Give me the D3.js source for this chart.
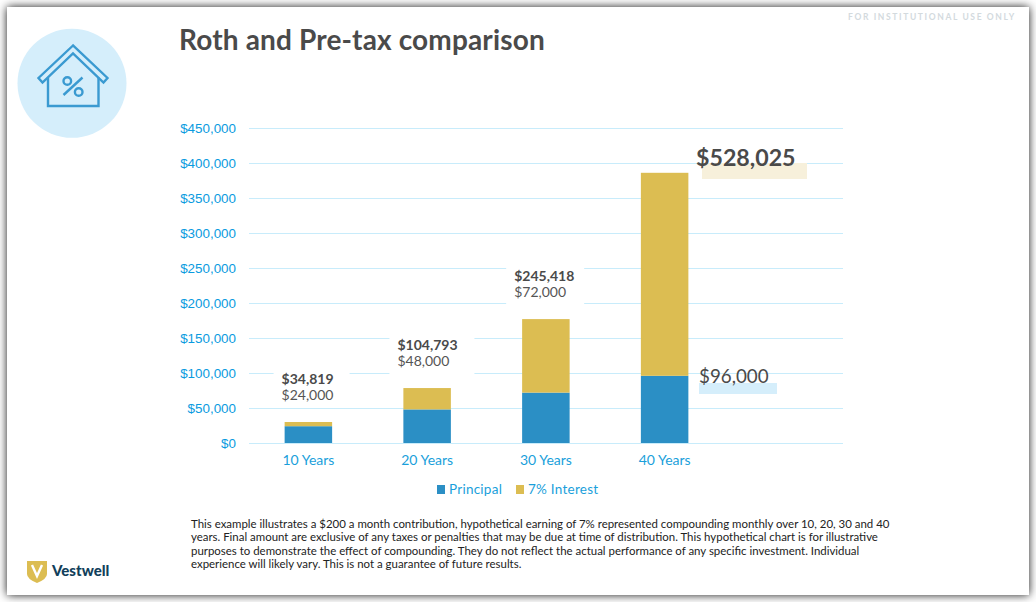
<!DOCTYPE html>
<html><head><meta charset="utf-8">
<script src="https://cdn.jsdelivr.net/npm/d3@7"></script>
<style>
html,body{margin:0;padding:0;background:#fff;width:1036px;height:602px;overflow:hidden}
svg{display:block}
text{font-family:"Lato","Open Sans",sans-serif}
</style></head><body>
<svg id="c" width="1036" height="602"></svg>
<script>
const categories=["10 Years","20 Years","30 Years","40 Years"];
const principal=[24000,48000,72000,96000];
const interest=[6000,30500,105000,290000];
const totalLabels=["$34,819","$104,793","$245,418"];
const principalLabels=["$24,000","$48,000","$72,000"];
const yTicks=[0,50000,100000,150000,200000,250000,300000,350000,400000,450000];
const seriesNames=["Principal","7% Interest"];
const seriesColors=["#2b8fc5","#dcbd52"];
const noteLines=[
"This example illustrates a $200 a month contribution, hypothetical earning of 7% represented compounding monthly over 10, 20, 30 and 40",
"years. Final amount are exclusive of any taxes or penalties that may be due at time of distribution. This hypothetical chart is for illustrative",
"purposes to demonstrate the effect of compounding. They do not reflect the actual performance of any specific investment. Individual",
"experience will likely vary. This is not a guarantee of future results."];

const svg=d3.select("#c");
const defs=svg.append("defs");
const f=defs.append("filter").attr("id","sh").attr("x","-5%").attr("y","-5%").attr("width","110%").attr("height","110%");
f.append("feDropShadow").attr("dx",0).attr("dy",0).attr("stdDeviation",5).attr("flood-color","#000").attr("flood-opacity",.9);
svg.append("rect").attr("x",7).attr("y",7).attr("width",1022).attr("height",588).attr("fill","#fff").attr("filter","url(#sh)");

const x=d3.scaleBand().domain(categories).range([249,724]).paddingInner(.6).paddingOuter(.3);
const y=d3.scaleLinear().domain([0,450000]).range([443,128]);

const grid=svg.append("g");
grid.selectAll("line").data(yTicks).join("line")
 .attr("x1",249).attr("x2",843).attr("y1",d=>y(d)+.5).attr("y2",d=>y(d)+.5)
 .attr("stroke","#c8ecfb").attr("stroke-width",1);

const axY=svg.append("g").attr("transform","translate(236,0)")
 .call(d3.axisLeft(y).tickValues(yTicks).tickSize(0).tickPadding(0).tickFormat(d=>"$"+d3.format(",")(d)));
axY.select(".domain").remove();
axY.selectAll("text").attr("fill","#0a9be0").attr("dy","0.3em").style("font-family","'Liberation Sans',Arial,sans-serif").style("font-size","13.4px");

const axX=svg.append("g").attr("transform","translate(0,443)")
 .call(d3.axisBottom(x).tickSize(0).tickPadding(12));
axX.select(".domain").remove();
axX.selectAll("text").attr("fill","#1a9fdb").style("font-size","14px");

const stacked=categories.map((c,i)=>({c,p:principal[i],t:principal[i]+interest[i]}));
svg.append("g").selectAll("rect").data(stacked).join("rect")
 .attr("x",d=>x(d.c)).attr("width",x.bandwidth()).attr("y",d=>y(d.p)).attr("height",d=>y(0)-y(d.p)).attr("fill",seriesColors[0]);
svg.append("g").selectAll("rect").data(stacked).join("rect")
 .attr("x",d=>x(d.c)).attr("width",x.bandwidth()).attr("y",d=>y(d.t)).attr("height",d=>y(d.p)-y(d.t)).attr("fill",seriesColors[1]);

const plateWidths=[76,85,78];
const textDx=[-26.8,-29.7,-31.7];
const lab=svg.append("g").selectAll("g").data(totalLabels).join("g")
 .attr("transform",(d,i)=>`translate(${x(categories[i])+x.bandwidth()/2+textDx[i]},${y(stacked[i].t)-38})`);
lab.append("rect").attr("x",-8).attr("y",-16).attr("width",(d,i)=>plateWidths[i]).attr("height",40).attr("fill","#fff");
lab.append("text").attr("font-weight",700).attr("font-size",14).attr("fill","#4a4a4a").text(d=>d);
lab.append("text").attr("y",16).attr("font-size",14).attr("fill","#555").text((d,i)=>principalLabels[i]);

const lg=svg.append("g").selectAll("g").data(seriesNames).join("g")
 .attr("transform",(d,i)=>`translate(${[437,516][i]},0)`);
lg.append("rect").attr("y",485).attr("width",8).attr("height",9).attr("fill",(d,i)=>seriesColors[i]);
lg.append("text").attr("x",12).attr("y",494).attr("font-size",13.5).attr("letter-spacing",.25).attr("fill","#1a9fdb").text(d=>d);

svg.append("rect").attr("x",702).attr("y",163).attr("width",105).attr("height",16).attr("fill","#f7f0db");
svg.append("rect").attr("x",699).attr("y",383).attr("width",78).attr("height",11).attr("fill","#d5eefb");
svg.append("text").attr("x",696).attr("y",166).attr("font-size",23.2).attr("font-weight",700).attr("fill","#4a4a4a").text("$528,025");
svg.append("text").attr("x",699).attr("y",383).attr("font-size",18.8).attr("fill","#4a4a4a").text("$96,000");

svg.append("text").attr("x",179).attr("y",50).attr("font-size",28).attr("font-weight",700).attr("letter-spacing",.15).attr("fill","#4a4a4a").text("Roth and Pre-tax comparison");
svg.append("text").attr("x",848).attr("y",20).attr("font-size",8.5).attr("font-weight",700).attr("letter-spacing",1.63).attr("fill","#d3dade").text("FOR INSTITUTIONAL USE ONLY");

svg.append("circle").attr("cx",72).attr("cy",83.3).attr("r",54.5).attr("fill","#d5eefb");
const ic=svg.append("g").attr("fill","none").attr("stroke","#3a9ad1").attr("stroke-width",2.4);
ic.append("path").attr("d","M48 77.5V106H98.500V77.500");
ic.append("path").attr("d","M73 45.500L38.500 78L42.500 82.500L73 53.500L103.500 82.500L107.500 78Z");
ic.append("circle").attr("cx",67.3).attr("cy",81).attr("r",3.8);
ic.append("circle").attr("cx",78.7).attr("cy",92).attr("r",3.8);
ic.append("path").attr("d","M63.500 95L82.500 77.500");

svg.append("path").attr("d","M27 561H47V574Q47 579 37 583Q27 579 27 574Z").attr("fill","#dcbd52");
svg.append("path").attr("d","M32 565L37 576L42 565").attr("fill","none").attr("stroke","#fff").attr("stroke-width",2.4);
svg.append("text").attr("x",52).attr("y",576).attr("font-size",15).attr("font-weight",900).attr("fill","#123f5b").text("Vestwell");

svg.append("g").selectAll("text").data(noteLines).join("text")
 .attr("x",191).attr("y",(d,i)=>528+i*13.4).attr("font-size",11.45).attr("fill","#222").text(d=>d);
</script></body></html>
